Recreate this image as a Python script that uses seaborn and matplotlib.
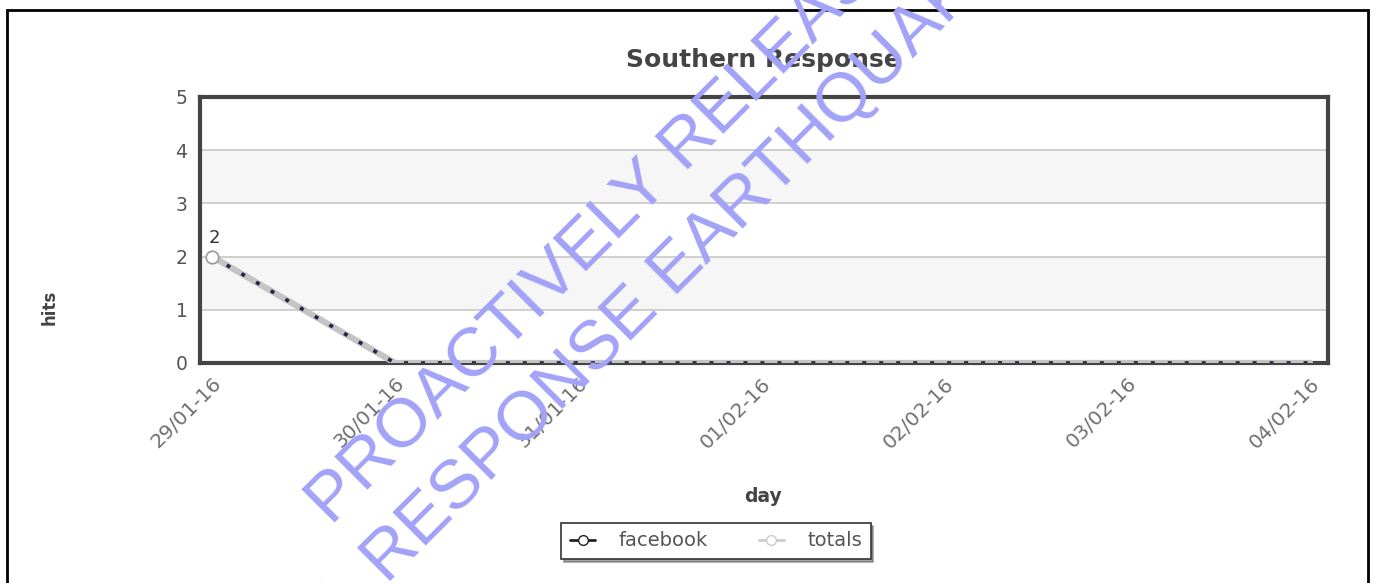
import pandas as pd
import matplotlib.pyplot as plt
import matplotlib.patches as patches
import seaborn as sns
from matplotlib.lines import Line2D

# data
days = ['29/01-16', '30/01-16', '31/01-16', '01/02-16', '02/02-16', '03/02-16', '04/02-16']
facebook = [2, 0, 0, 0, 0, 0, 0]
totals = [2, 0, 0, 0, 0, 0, 0]
y_ticks = [0, 1, 2, 3, 4, 5]

df = pd.DataFrame({
    'day': list(range(len(days))) * 2,
    'hits': facebook + totals,
    'series': ['facebook'] * len(days) + ['totals'] * len(days),
})

sns.set_theme(style='white')
plt.rcParams['font.family'] = ['DejaVu Sans']

W, H = 1376, 583
fig = plt.figure(figsize=(W / 100, H / 100), dpi=100)
ax = fig.add_axes([200 / W, 1 - 363 / H, 1128 / W, 266 / H])

# alternating bands + grid
for lo in [1, 3]:
    ax.axhspan(lo, lo + 1, color='#f6f6f6', zorder=0, lw=0)
for v in y_ticks[1:-1]:
    ax.axhline(v, color='#c8c8c8', lw=1.2, zorder=1)

sns.lineplot(data=df[df.series == 'totals'], x='day', y='hits', ax=ax,
             color='#c4c4c4', lw=4.5, zorder=3, legend=False)
sns.lineplot(data=df[df.series == 'facebook'], x='day', y='hits', ax=ax,
             color='#22224a', lw=2.6, ls=(0, (1.1, 3.6)), zorder=4, legend=False,
             marker='o', markevery=[0], markersize=9,
             markerfacecolor='white', markeredgecolor='#999999', markeredgewidth=1.2)

ax.annotate(str(facebook[0]), (0, facebook[0]), xytext=(2, 7), textcoords='offset points',
            ha='center', va='bottom', fontsize=13, color='#333333')

ax.set_xlim(-0.066, 6.098)
ax.set_ylim(0, 5)
ax.set_xticks(range(len(days)))
ax.set_xticklabels(days, rotation=45, ha='right', va='top', rotation_mode='anchor',
                   color='#707070', fontsize=14.5)
ax.set_yticks(y_ticks)
ax.set_yticklabels([str(t) for t in y_ticks], color='#555555', fontsize=13.5)
ax.tick_params(axis='x', length=0, pad=8)
ax.tick_params(axis='y', length=0, pad=9)
ax.set_xlabel('')
ax.set_ylabel('')
for s in ax.spines.values():
    s.set_color('#444444')
    s.set_linewidth(3)

fig.text(763 / W, 1 - 60 / H, 'Southern Response', ha='center', va='center',
         fontsize=18, fontweight='bold', color='#444444')
fig.text(50 / W, 1 - 307 / H, 'hits', ha='center', va='center', rotation=90,
         fontsize=12, fontweight='bold', color='#444444')
fig.text(763 / W, 1 - 497 / H, 'day', ha='center', va='center',
         fontsize=13.5, fontweight='bold', color='#444444')

handles = [
    Line2D([], [], color='#222222', lw=2, marker='o', markersize=7,
           markerfacecolor='white', markeredgecolor='#222222'),
    Line2D([], [], color='#cccccc', lw=2, marker='o', markersize=7,
           markerfacecolor='white', markeredgecolor='#cccccc'),
]
leg = fig.legend(handles, ['facebook', 'totals'], loc='center',
                 bbox_to_anchor=(716 / W, 1 - 541 / H), ncol=2, frameon=True,
                 shadow=True, fancybox=False, edgecolor='#333333', fontsize=14,
                 handlelength=1.3, handletextpad=1.2, columnspacing=2.6,
                 borderpad=0.45, borderaxespad=0)
for t in leg.get_texts():
    t.set_color('#555555')
leg.get_frame().set_linewidth(1.2)

# outer frame
fig.add_artist(patches.Rectangle((7 / W, -0.05), (1368 - 7) / W, 1.05 - 10 / H,
                                 transform=fig.transFigure, fill=False,
                                 ec='black', lw=2))

# watermark
wm = dict(rotation=45, rotation_mode='anchor', va='baseline', fontsize=50,
          color='#a2a2f8', family='Liberation Sans', zorder=10)
fig.text(332 / W, 1 - 527 / H, 'PROACTIVELY RELEASED', ha='left', **wm)
fig.text(372 / W, 1 - 598 / H, 'SOUTHERN ', ha='right', **wm)
fig.text(387 / W, 1 - 585 / H, 'RESPONSE EARTHQUAKE SERVICES', ha='left', **wm)

fig.savefig('out.png', dpi=100)
